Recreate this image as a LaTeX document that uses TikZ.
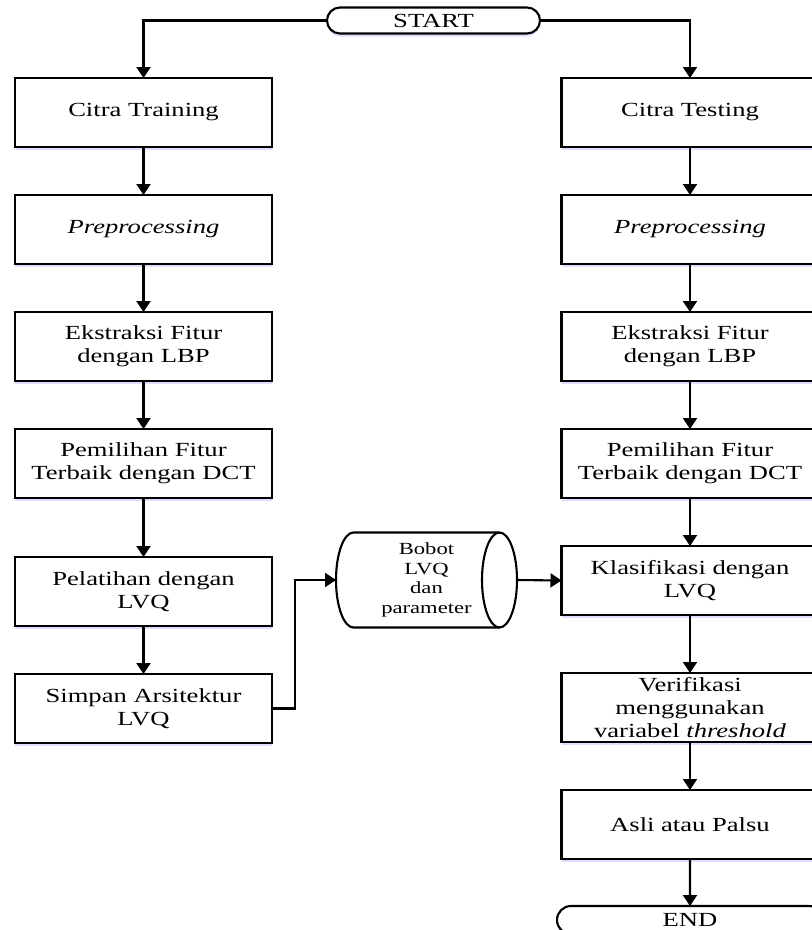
\documentclass[tikz,border=0pt]{standalone}
\usepackage{fontspec}
\setmainfont{Liberation Serif}[FakeStretch=1.33]
\usepackage{tikz}
\usetikzlibrary{arrows.meta, positioning, shapes.misc, shadows}

\begin{document}
\begin{tikzpicture}[x=1pt,y=1pt,node distance=48pt,line width=2.1pt,
    >={Triangle[length=11pt,width=14pt]},
    every node/.style={font=\fontsize{20}{23.3}\selectfont},
    proc/.style={draw,fill=white,minimum width=257pt,minimum height=69pt,
        inner xsep=2pt,inner ysep=1pt,outer sep=0pt,align=center,
        drop shadow={shadow xshift=0pt,shadow yshift=-3pt,fill=blue!25,opacity=.5}},
    term/.style={draw,fill=white,rounded rectangle,minimum height=26pt,inner sep=0pt,outer sep=0pt,
        drop shadow={shadow xshift=0pt,shadow yshift=-3pt,fill=blue!25,opacity=.5}}]
    \path[use as bounding box,fill=white] (0,0) rectangle (812,-930);

    \node[term,minimum width=213pt] (start) at (433.5,-20.5) {START};

    % training
    \node[proc] (tr1) at (143.5,-112.5) {Citra Training};
    \node[proc] (tr2) [below=of tr1] {\textit{Preprocessing}};
    \node[proc] (tr3) [below=of tr2] {Ekstraksi Fitur\\dengan LBP};
    \node[proc] (tr4) [below=of tr3] {Pemilihan Fitur\\Terbaik dengan DCT};
    \node[proc] (tr5) [below=59pt of tr4] {Pelatihan dengan\\LVQ};
    \node[proc] (tr6) [below=of tr5] {Simpan Arsitektur\\LVQ};

    % testing
    \node[proc] (te1) at (690,-112.5) {Citra Testing};
    \node[proc] (te2) [below=of te1] {\textit{Preprocessing}};
    \node[proc] (te3) [below=of te2] {Ekstraksi Fitur\\dengan LBP};
    \node[proc] (te4) [below=of te3] {Pemilihan Fitur\\Terbaik dengan DCT};
    \node[proc] (te5) [below=of te4] {Klasifikasi dengan\\LVQ};
    \node[proc] (te6) [below=58pt of te5] {Verifikasi\\menggunakan\\variabel \textit{threshold}};
    \node[proc] (te7) [below=of te6] {Asli atau Palsu};
    \node[term,minimum width=266pt,minimum height=28pt] (end) [below=47pt of te7] {END};

    % bobot LVQ
    \node[minimum width=181pt,minimum height=95pt,inner sep=0pt,outer sep=0pt,align=center,
        font=\fontsize{17}{19.5}\selectfont] (bobot) at (426.5,-580) {Bobot\\LVQ\\dan\\parameter};
    \draw ([xshift=17.5pt]bobot.north west) -- ([xshift=-17.5pt]bobot.north east)
        arc[start angle=90,end angle=-90,x radius=17.5pt,y radius=47.5pt]
        -- ([xshift=17.5pt]bobot.south west)
        arc[start angle=270,end angle=90,x radius=17.5pt,y radius=47.5pt] -- cycle;
    \draw ([xshift=-17.5pt]bobot.north east) arc[start angle=90,end angle=270,x radius=17.5pt,y radius=47.5pt];

    \draw[->] (start.west) -| (tr1.north);
    \draw[->] (start.east) -| (te1.north);
    \path[->] (tr1) edge (tr2) (tr2) edge (tr3) (tr3) edge (tr4)
        (tr4) edge (tr5) (tr5) edge (tr6);
    \path[->] (te1) edge (te2) (te2) edge (te3) (te3) edge (te4)
        (te4) edge (te5) (te5) edge (te6) (te6) edge (te7) (te7) edge (end);
    \draw[->] (tr6.east) -- ++(23,0) |- (bobot.west);
    \draw[->] (bobot.east) -- (te5.west);
\end{tikzpicture}
\end{document}
